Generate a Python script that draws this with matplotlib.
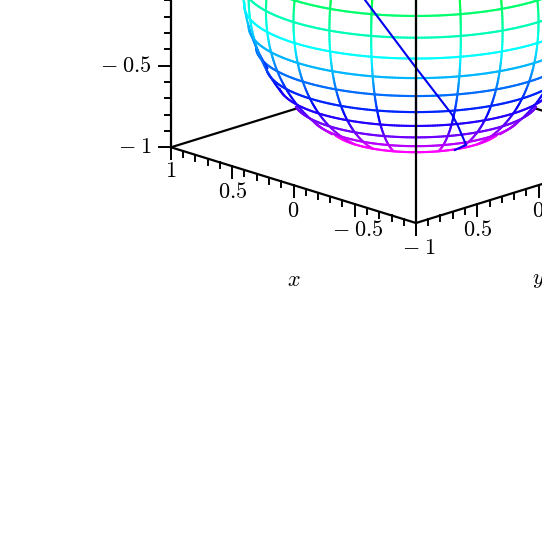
import numpy as np
import matplotlib
matplotlib.use('Agg')
import matplotlib.pyplot as plt
from matplotlib.colors import hsv_to_rgb
from mpl_toolkits.mplot3d import proj3d
from mpl_toolkits.mplot3d.art3d import Line3DCollection

plt.rcParams['mathtext.fontset'] = 'cm'

# grid of the wire sphere, degrees from the south pole / around the pole
ring_polar = np.arange(30, 180.1, 7.5)
meridian_az = np.arange(0, 360, 15)

# blue curve (a = y label axis, b = x label axis)
curve_a = [-0.879, -0.864, -0.710, -0.435, -0.350, -0.135, -0.143]
curve_b = [-0.405, -0.464, -0.686, -0.729, -0.694, -0.544, -0.461]
curve_z = [0.258, 0.195, -0.165, -0.529, -0.629, -0.828, -0.876]

x_labels = {1: r'$1$', 0.5: r'$0.5$', 0: r'$0$', -0.5: r'$-\;0.5$'}
y_labels = {-1: r'$-\;1$', -0.5: r'$0.5$', 0: r'$0$'}
z_labels = {-1: r'$-\;1$', -0.5: r'$-\;0.5$'}

ELEV, AZIM = 18.0, 225.0
SCALE = 173.0
ZSCALE = 165.0
FS = 16

fig = plt.figure(figsize=(5.42, 5.42), dpi=100)
ax = fig.add_axes([0, 0, 1, 1], projection='3d', computed_zorder=False)
ax.set_proj_type('ortho')
ax.set_box_aspect((1, 1, 0.99))
ax.view_init(elev=ELEV, azim=AZIM)
ax.set_xlim(-1, 1)
ax.set_ylim(-1, 1)
ax.set_zlim(-1, 1)
ax.set_axis_off()


def to_px(a, b, z):
    X, Y, _ = proj3d.proj_transform(a, b, z, ax.get_proj())
    return ax.transData.transform((X, Y))


# put the box corners where they are in the reference
w = 245.0 / abs(to_px(1, -1, -1)[0] - to_px(-1, -1, -1)[0])
ax.set_position([0, 0, w, w])
corner = to_px(-1, -1, -1)
ax.set_position([(416 - corner[0]) / 542, (319 - corner[1]) / 542, w, w])

cam = np.array([np.cos(np.radians(ELEV)) * np.cos(np.radians(AZIM)),
                np.cos(np.radians(ELEV)) * np.sin(np.radians(AZIM)),
                np.sin(np.radians(ELEV))])


def hue_color(p):
    h = (300 - (p - 30) * 120 / 52.5) % 360
    return hsv_to_rgb((h / 360, 1, 1))


def sphere(p, t):
    p, t = np.broadcast_arrays(np.radians(p), np.radians(t))
    return np.sin(p) * np.cos(t), np.sin(p) * np.sin(t), -np.cos(p)


def label(a, b, z, s, dx=0, dy=0, ha='center'):
    px = to_px(a, b, z)
    fig.text((px[0] + dx) / 542, (px[1] - dy) / 542, s, fontsize=FS,
             ha=ha, va='center')


# white body so the back edges stop at the silhouette
pp, tt = np.meshgrid(np.linspace(30, 180, 41), np.linspace(0, 360, 73))
sx, sy, sz = sphere(pp, tt)
ax.plot_surface(sx, sy, sz, color='white', shade=False, linewidth=0,
                antialiased=False, zorder=2)

# back floor edges
ax.plot([-1, 1], [1, 1], [-1, -1], color='k', lw=1.6, zorder=1)
ax.plot([1, 1], [-1, 1], [-1, -1], color='k', lw=1.6, zorder=1)

# wires, mostly the side facing the viewer
segs, cols = [], []
for p in ring_polar:
    t = np.linspace(0, 360, 361)
    xs, ys, zs = sphere(p, t)
    pts = np.column_stack([xs, ys, zs])
    for i in range(len(t) - 1):
        if pts[i] @ cam > -0.1 and pts[i + 1] @ cam > -0.1:
            segs.append(pts[i:i + 2])
            cols.append(hue_color(p))
for t in meridian_az:
    # the two meridians on the rim stay visible a bit further round the back
    limit = -0.16 if t in (135, 315) else 0
    p = np.linspace(30, 180, 151)
    xs, ys, zs = sphere(p, t)
    pts = np.column_stack([xs, ys, zs])
    for i in range(len(p) - 1):
        if pts[i] @ cam > limit and pts[i + 1] @ cam > limit:
            segs.append(pts[i:i + 2])
            cols.append(hue_color((p[i] + p[i + 1]) / 2))
ax.add_collection3d(Line3DCollection(segs, colors=cols, linewidths=1.55,
                                     capstyle='round', zorder=3))

ax.plot(curve_a, curve_b, curve_z, color=(0, 0, 0.95), lw=1.5, zorder=4)

# front edges and the z axes
ax.plot([-1, 1], [-1, -1], [-1, -1], color='k', lw=1.6, zorder=5)
ax.plot([-1, -1], [-1, 1], [-1, -1], color='k', lw=1.6, zorder=5)
ax.plot([-1, -1], [-1, -1], [-1, 1], color='k', lw=1.6, zorder=5)
ax.plot([-1, -1], [1, 1], [-1, 1], color='k', lw=1.6, zorder=5)

for i in range(21):
    v = -1 + i * 0.1
    ln = 12 if i % 5 == 0 else 6
    dz = ln / ZSCALE
    ax.plot([-1, -1], [v, v], [-1, -1 - dz], color='k', lw=1.4, zorder=5)
    ax.plot([v, v], [-1, -1], [-1, -1 - dz], color='k', lw=1.4, zorder=5)
    d = ln / SCALE * np.sqrt(0.5)
    ax.plot([-1, -1 - d], [1, 1 + d], [v, v], color='k', lw=1.4, zorder=5)

for v, s in x_labels.items():
    label(-1, v, -1, s, dx=3 if v < 0 else 0, dy=24 if v == 1 else 25.5)
for v, s in y_labels.items():
    label(v, -1, -1, s, dx=3 if v == -1 else 0, dy=25.5)
for v, s in z_labels.items():
    label(-1, 1, v, s, dx=-19, ha='right')
label(-1, 0, -1, r'$x$', dy=95)
label(0, -1, -1, r'$y$', dy=95)

fig.savefig('out.png', dpi=100, facecolor='white')
